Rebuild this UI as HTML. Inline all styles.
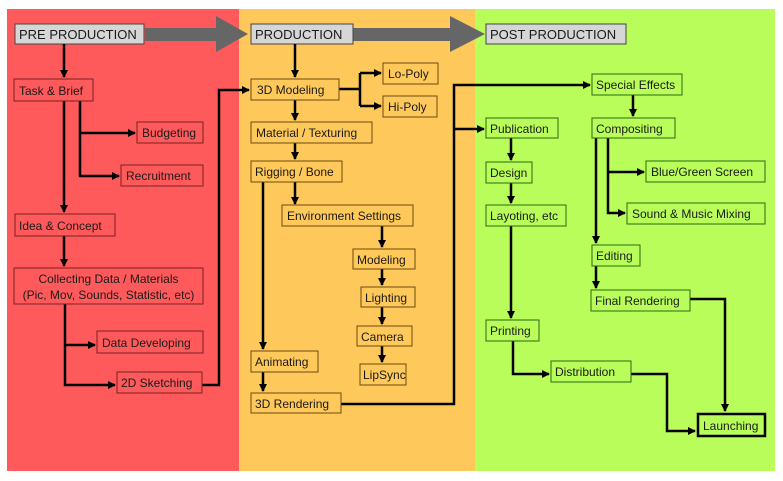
<!DOCTYPE html>
<html><head><meta charset="utf-8"><style>
html,body{margin:0;padding:0;background:#fff;}
svg{display:block;}
text{font-family:"Liberation Sans",sans-serif;font-size:12px;fill:#1a1a1a;}
.h{font-size:13px;}
</style></head><body>
<svg width="783" height="481" viewBox="0 0 783 481" xmlns="http://www.w3.org/2000/svg">
<defs>
<marker id="a" markerWidth="8" markerHeight="8" refX="7" refY="4" orient="auto" markerUnits="userSpaceOnUse">
<path d="M0,0 L8,4 L0,8 z" fill="#000"/></marker>
</defs>
<rect x="0" y="0" width="783" height="481" fill="#fff"/>
<rect x="7" y="9" width="232" height="462" fill="#fe5a5c"/>
<rect x="239" y="9" width="236" height="462" fill="#fec95a"/>
<rect x="475" y="9" width="300" height="462" fill="#b8fd5a"/>

<!-- big arrows -->
<path d="M145,28 L216,28 L216,16 L248,34 L216,52 L216,41 L145,41 z" fill="#666"/>
<path d="M353,28 L450,28 L450,16 L485,34 L450,52 L450,41 L353,41 z" fill="#666"/>

<g fill="#d6d6d6" stroke="#444" stroke-width="1">
<rect x="15" y="24" width="129" height="20"/>
<rect x="251" y="24" width="102" height="20"/>
<rect x="486" y="24" width="140" height="20"/>
</g>
<text class="h" x="19" y="39">PRE PRODUCTION</text>
<text class="h" x="255" y="39">PRODUCTION</text>
<text class="h" x="490" y="39">POST PRODUCTION</text>

<!-- connectors -->
<g stroke="#000" stroke-width="2.5" fill="none">
<path d="M64,44 V77" marker-end="url(#a)"/>
<path d="M64,101 V212" marker-end="url(#a)"/>
<path d="M80,101 V176 H119" marker-end="url(#a)"/>
<path d="M80,133 H135" marker-end="url(#a)"/>
<path d="M64,236 V266" marker-end="url(#a)"/>
<path d="M65,304 V385 H115" marker-end="url(#a)"/>
<path d="M65,345 H95" marker-end="url(#a)"/>
<path d="M202,385 H219 V90 H249" marker-end="url(#a)"/>

<path d="M295,44 V77" marker-end="url(#a)"/>
<path d="M339,89 H360"/>
<path d="M360,73 V106"/>
<path d="M360,73 H381" marker-end="url(#a)"/>
<path d="M360,106 H381" marker-end="url(#a)"/>
<path d="M295,100 V120" marker-end="url(#a)"/>
<path d="M295,143 V159" marker-end="url(#a)"/>
<path d="M295,182 V204" marker-end="url(#a)"/>
<path d="M263,182 V349" marker-end="url(#a)"/>
<path d="M263,372 V391" marker-end="url(#a)"/>
<path d="M382,226 V247" marker-end="url(#a)"/>
<path d="M382,269 V285" marker-end="url(#a)"/>
<path d="M382,307 V324" marker-end="url(#a)"/>
<path d="M382,346 V362" marker-end="url(#a)"/>
<path d="M341,404 H454 V85 H590" marker-end="url(#a)"/>
<path d="M454,129 H484" marker-end="url(#a)"/>

<path d="M511,138 V160" marker-end="url(#a)"/>
<path d="M511,183 V203" marker-end="url(#a)"/>
<path d="M511,226 V318" marker-end="url(#a)"/>
<path d="M513,341 V374 H549" marker-end="url(#a)"/>
<path d="M631,374 H667 V431 H695" marker-end="url(#a)"/>
<path d="M633,95 V116" marker-end="url(#a)"/>
<path d="M608,138 V213 H625" marker-end="url(#a)"/>
<path d="M608,172 H644" marker-end="url(#a)"/>
<path d="M596,138 V243" marker-end="url(#a)"/>
<path d="M596,266 V288" marker-end="url(#a)"/>
<path d="M690,299 H725 V411" marker-end="url(#a)"/>
</g>

<!-- red boxes -->
<g fill="#fe5a5c" stroke="#7a2020" stroke-width="1">
<rect x="14" y="79" width="79" height="22"/>
<rect x="137" y="122" width="66" height="21"/>
<rect x="121" y="165" width="82" height="21"/>
<rect x="15" y="214" width="100" height="22"/>
<rect x="14" y="268" width="189" height="36"/>
<rect x="97" y="331" width="106" height="22"/>
<rect x="117" y="372" width="85" height="21"/>
</g>
<text x="19" y="95">Task &amp; Brief</text>
<text x="142" y="137">Budgeting</text>
<text x="126" y="180">Recruitment</text>
<text x="19" y="230">Idea &amp; Concept</text>
<text x="108.5" y="283" text-anchor="middle">Collecting Data / Materials</text>
<text x="108.5" y="299" text-anchor="middle">(Pic, Mov, Sounds, Statistic, etc)</text>
<text x="102" y="347">Data Developing</text>
<text x="121" y="387">2D Sketching</text>

<!-- yellow boxes -->
<g fill="#fec95a" stroke="#6a4a10" stroke-width="1">
<rect x="251" y="79" width="88" height="21"/>
<rect x="383" y="63" width="55" height="21"/>
<rect x="383" y="96" width="54" height="21"/>
<rect x="251" y="122" width="121" height="21"/>
<rect x="251" y="161" width="91" height="21"/>
<rect x="282" y="205" width="131" height="21"/>
<rect x="353" y="249" width="62" height="20"/>
<rect x="361" y="287" width="54" height="20"/>
<rect x="357" y="326" width="55" height="20"/>
<rect x="360" y="364" width="46" height="21"/>
<rect x="251" y="351" width="67" height="21"/>
<rect x="251" y="393" width="90" height="20"/>
</g>
<text x="257" y="94">3D Modeling</text>
<text x="388" y="78">Lo-Poly</text>
<text x="388" y="111">Hi-Poly</text>
<text x="256" y="137">Material / Texturing</text>
<text x="255" y="176">Rigging / Bone</text>
<text x="287" y="220">Environment Settings</text>
<text x="357" y="264">Modeling</text>
<text x="365" y="302">Lighting</text>
<text x="361" y="341">Camera</text>
<text x="363" y="379">LipSync</text>
<text x="255" y="366">Animating</text>
<text x="255" y="408">3D Rendering</text>

<!-- green boxes -->
<g fill="#b8fd5a" stroke="#2a6a10" stroke-width="1">
<rect x="486" y="118" width="72" height="20"/>
<rect x="486" y="162" width="46" height="21"/>
<rect x="486" y="205" width="80" height="21"/>
<rect x="486" y="320" width="53" height="21"/>
<rect x="551" y="361" width="80" height="21"/>
<rect x="592" y="74" width="90" height="21"/>
<rect x="592" y="118" width="83" height="20"/>
<rect x="646" y="161" width="119" height="21"/>
<rect x="627" y="203" width="138" height="21"/>
<rect x="592" y="245" width="48" height="21"/>
<rect x="591" y="290" width="99" height="21"/>
</g>
<rect x="698" y="414" width="67" height="22" fill="#b8fd5a" stroke="#000" stroke-width="2.5"/>
<text x="490" y="133">Publication</text>
<text x="490" y="177">Design</text>
<text x="490" y="220">Layoting, etc</text>
<text x="490" y="335">Printing</text>
<text x="555" y="376">Distribution</text>
<text x="596" y="89">Special Effects</text>
<text x="596" y="133">Compositing</text>
<text x="651" y="176">Blue/Green Screen</text>
<text x="632" y="218">Sound &amp; Music Mixing</text>
<text x="596" y="260">Editing</text>
<text x="595" y="305">Final Rendering</text>
<text x="703" y="430">Launching</text>
</svg>
</body></html>
